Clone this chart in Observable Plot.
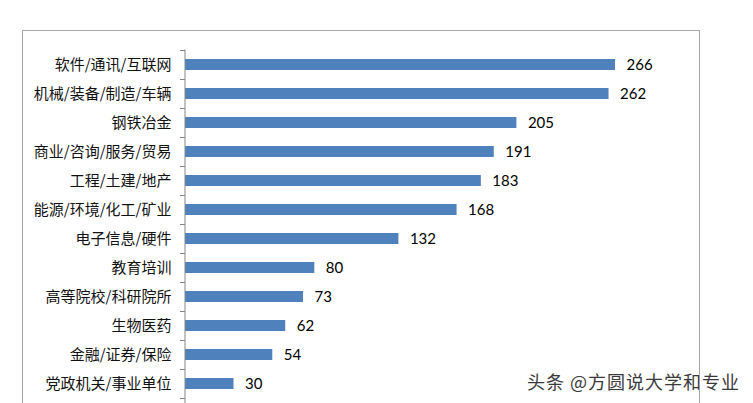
<!DOCTYPE html>
<html>
<head>
<meta charset="utf-8">
<script src="https://cdn.jsdelivr.net/npm/d3@7"></script>
<script src="https://cdn.jsdelivr.net/npm/@observablehq/plot@0.6"></script>
<style>
  html, body { margin: 0; padding: 0; background: #fff; }
  #wrap { position: relative; width: 753px; height: 403px; overflow: hidden; background: #fff; }
  #frame { position: absolute; left: 22px; top: 30px; width: 678px; height: 420px;
           border: 1.5px solid #a6a6a6; border-bottom: none; box-sizing: border-box; }
  #chart { position: absolute; left: 0; top: 0; }
  #wm { position: absolute; left: 527px; top: 368px; font-family: "Noto Sans CJK SC", sans-serif;
        font-size: 18px; color: #3a3a3a; white-space: nowrap; letter-spacing: 1px;
        text-shadow: 0 0 2px #fff, 0 0 2px #fff; }
</style>
</head>
<body>
<div id="wrap">
  <div id="frame"></div>
  <div id="chart"></div>
  <div id="wm">头条 @方圆说大学和专业</div>
</div>
<script>
const categories = ["软件/通讯/互联网", "机械/装备/制造/车辆", "钢铁冶金", "商业/咨询/服务/贸易",
  "工程/土建/地产", "能源/环境/化工/矿业", "电子信息/硬件", "教育培训", "高等院校/科研院所",
  "生物医药", "金融/证券/保险", "党政机关/事业单位"];
const values = [266, 262, 205, 191, 183, 168, 132, 80, 73, 62, 54, 30];

const data = categories.map((c, i) => ({category: c, value: values[i]}));
const cjk = "'Noto Sans CJK SC', sans-serif";
const gray = "#868686";

const chart = Plot.plot({
  width: 753,
  height: 420,
  marginLeft: 185,
  marginRight: 138,
  marginTop: 49.5,
  marginBottom: 22.5,
  style: {background: "transparent", overflow: "visible"},
  x: {domain: [0, 266], axis: null},
  y: {domain: categories, padding: 0, axis: null},
  marks: [
    Plot.barX(data, {y: "category", x: "value", fill: "#4f81bd", insetTop: 9, insetBottom: 9}),
    Plot.text(data, {y: "category", x: "value", text: d => String(d.value), textAnchor: "start",
      dx: 11, dy: 0.5, fontSize: 15, fontFamily: "Lato, sans-serif", fill: "#000"}),
    Plot.axisY({tickSize: 0, tickPadding: 14, fontSize: 15, fontFamily: cjk, color: "#111", label: null}),
    Plot.axisY({text: null, tickSize: 5, dy: -14.5, stroke: gray, label: null}),
    Plot.axisY({ticks: [categories[categories.length - 1]], text: null, tickSize: 5, dy: 14.5, stroke: gray, label: null}),
    Plot.ruleX([0], {stroke: gray, strokeWidth: 1, dx: -0.5, insetBottom: -40})
  ]
});
document.getElementById("chart").appendChild(chart);
</script>
</body>
</html>
